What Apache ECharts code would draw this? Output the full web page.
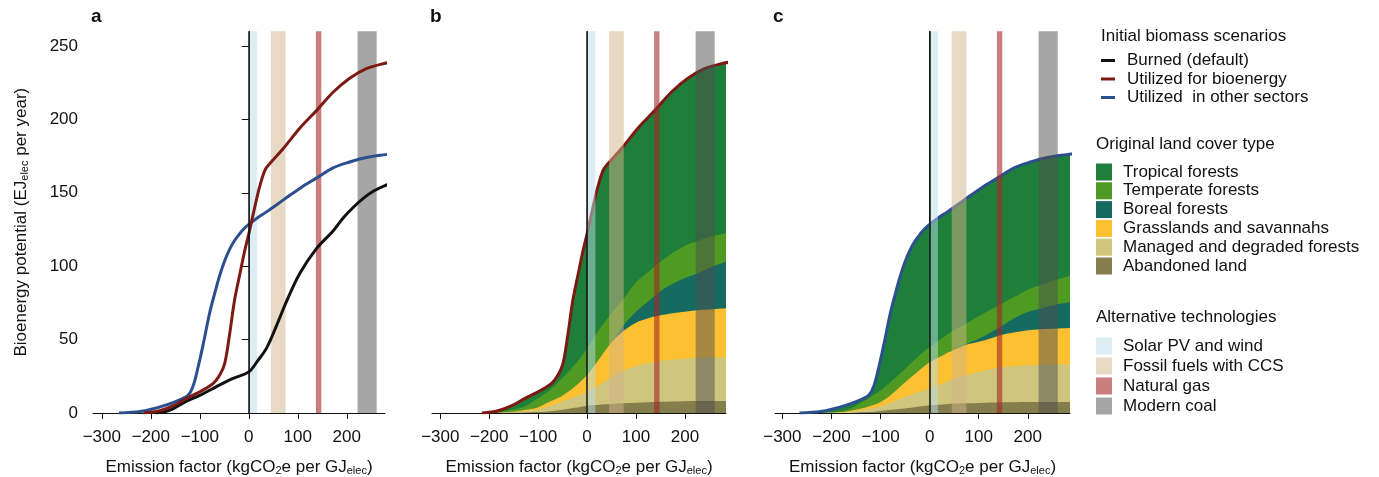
<!DOCTYPE html>
<html>
<head>
<meta charset="utf-8">
<script src="https://cdn.jsdelivr.net/npm/echarts@6/dist/echarts.min.js"></script>
<style>
  html, body { margin: 0; padding: 0; background: #fff; }
  #chart { width: 1379px; height: 477px; }
</style>
</head>
<body>
<div id="chart"></div>
<script>
// 曲线数据
const burnedX = [-190, -170, -154, -127, -100, -66, -32, 0, 19, 36, 56, 77, 104, 138, 172, 193, 213, 233, 254, 279, 290];
const burnedY = [0, 1, 3, 8, 12, 18, 23.6, 28, 36, 44, 59, 76, 95, 112, 124, 133, 140, 146, 151, 155, 156];

const bioX = [-215, -182, -154, -127, -100, -73, -59, -49, -39, -29, -18, -8, 0, 12, 22, 33, 43, 70, 104, 141, 172, 206, 240, 278, 292];
const bioY = [0, 1.5, 5, 10, 14.5, 20, 26, 34, 54, 77, 95, 111, 122, 140, 154, 165.5, 170, 180, 194, 207, 218.5, 228, 234.5, 238.2, 239];

const otherX = [-265, -222, -199, -168, -141, -124, -114, -103, -93, -80, -70, -60, -50, -40, -30, -20, -10, 0, 18, 36, 70, 104, 138, 172, 206, 240, 279, 292];
const otherY = [0, 1, 2.5, 5.5, 9, 12, 18, 32, 47, 68, 81, 93, 103, 111, 117, 121.5, 125.5, 128.5, 133, 137, 145, 153, 160, 167, 171, 174, 176, 176.5];

// 土地类型分层（累计上边界）
const layerX = [-230, -200, -175, -150, -125, -100, -75, -50, -25, 0, 25, 50, 75, 100, 125, 150, 175, 200, 225, 250, 292];

const temperateB = [0, 0.2, 0.8, 2.3, 5, 10, 16, 24, 33, 44, 57, 68, 78, 89, 96, 103, 109, 114, 117, 120, 123];
const borealB    = [0, 0, 0.3, 1, 2.2, 4, 8, 12, 18, 26, 37, 48, 60, 69, 76, 83, 88, 92, 95, 99, 104];
const grassB     = [0, 0, 0.3, 1, 2.2, 4, 8, 12, 18, 26, 37, 48, 56, 61.5, 64.5, 66.5, 68, 69, 70, 70.5, 71.5];
const managedB   = [0, 0, 0.2, 0.6, 1.3, 2.5, 5, 8, 11, 14.5, 19, 24.5, 29, 32, 34, 35.5, 36.5, 37, 37.5, 38, 38];
const abandonB   = [0, 0, 0, 0.1, 0.3, 0.6, 1.2, 2.2, 3.5, 5, 5.6, 6.1, 6.6, 7, 7.3, 7.6, 7.8, 8, 8.1, 8.2, 8.2];

const temperateC = [0, 0.5, 1.5, 5, 10, 15.4, 22.5, 30, 38, 45, 51, 56.5, 61, 66, 70.5, 75, 79.5, 84, 87, 90, 94];
const borealC    = [0, 0.2, 0.8, 2.3, 4.5, 7.5, 13.5, 21, 28, 34.5, 39, 43, 47, 50.5, 55, 60, 65, 68.8, 71, 73.3, 76];
const grassC     = [0, 0.2, 0.8, 2.3, 4.5, 7.5, 13.5, 21, 28, 34.5, 39, 43, 46.5, 48.5, 51, 53.5, 55, 56.3, 57, 57.4, 58];
const managedC   = [0, 0.1, 0.5, 1.4, 2.8, 4.5, 7.5, 11, 14, 16.6, 20, 23.4, 26, 28, 30, 31.3, 32, 32.5, 32.8, 33, 33.2];
const abandonC   = [0, 0, 0.05, 0.2, 0.6, 1.4, 2.2, 3, 4.2, 5.2, 5.8, 6.4, 6.6, 6.8, 7.1, 7.3, 7.4, 7.5, 7.5, 7.5, 7.5];

// 替代技术区间
const techNames = ['Solar PV and wind', 'Fossil fuels with CCS', 'Natural gas', 'Modern coal'];
const techFrom = [0, 45, 137, 222];
const techTo = [17, 75, 148, 261];
const techColors = ['rgba(185,221,233,0.5)', 'rgba(209,179,137,0.5)', 'rgba(165,38,38,0.6)', 'rgba(78,78,78,0.5)'];

const lineNames = ['Burned (default)', 'Utilized for bioenergy', 'Utilized  in other sectors'];
const lineColors = ['#111111', '#7d1a14', '#2b4f8f'];

const landNames = ['Tropical forests', 'Temperate forests', 'Boreal forests', 'Grasslands and savannahs', 'Managed and degraded forests', 'Abandoned land'];
const landColors = ['#1e7f3b', '#4f9a22', '#166b60', '#fcc030', '#cfc57c', '#847d4c'];

const xTicks = [-300, -200, -100, 0, 100, 200];
const yTicks = [0, 50, 100, 150, 200, 250];

const FONT = 'Liberation Sans';
const pairs = (xs, ys) => xs.map((x, i) => [x, ys[i]]);

const chart = echarts.init(document.getElementById('chart'));

const gridLeft = [93, 432, 775];
const gridWidth = [292, 294, 295];
const xMin = [-318, -317, -315];
const xMax = [278, 284, 286];

const xName = '{n|Emission factor (kgCO}{s|2}{n|e per GJ}{s|elec}{n|)}';
const nameRich = {
  n: { fontSize: 17, fontFamily: FONT, color: '#111', verticalAlign: 'top', lineHeight: 17 },
  s: { fontSize: 11, fontFamily: FONT, color: '#111', verticalAlign: 'bottom', lineHeight: 11, padding: [8, 0, 0, 0] }
};

const grids = [], xAxes = [], yAxes = [];
for (let i = 0; i < 3; i++) {
  grids.push({ left: gridLeft[i], top: 31.3, width: gridWidth[i], height: 381.7, outerBoundsMode: 'none', containLabel: false });
  xAxes.push({
    type: 'value', gridIndex: i, min: xMin[i], max: xMax[i],
    name: xName, nameLocation: 'middle', nameGap: 46,
    nameTextStyle: { rich: nameRich },
    axisLine: { show: true, lineStyle: { color: '#111', width: 1 } },
    axisTick: { show: true, length: 6, customValues: xTicks, lineStyle: { color: '#111' } },
    axisLabel: {
      customValues: xTicks, margin: 16, fontSize: 17, fontFamily: FONT, color: '#111',
      formatter: v => String(v).replace('-', '\u2212')
    },
    splitLine: { show: false }
  });
  yAxes.push({
    type: 'value', gridIndex: i, min: 0, max: 260,
    name: i === 0 ? '{n|Bioenergy potential (EJ}{s|elec}{n| per year)}' : '',
    nameLocation: 'middle', nameGap: 63, nameRotate: 90,
    nameTextStyle: { rich: nameRich },
    axisLine: { show: true, lineStyle: { color: '#111', width: 1 } },
    axisTick: { show: i === 0, length: 7, customValues: yTicks, lineStyle: { color: '#111' } },
    axisLabel: { show: i === 0, customValues: yTicks, margin: 15, fontSize: 17, fontFamily: FONT, color: '#111' },
    splitLine: { show: false }
  });
}

const series = [];

function addBands(idx, z) {
  techNames.forEach((name, k) => {
    series.push({
      name: name, type: 'line', xAxisIndex: idx, yAxisIndex: idx, data: [],
      color: techColors[k], z: z, silent: true,
      markArea: {
        silent: true, z: z,
        itemStyle: { color: techColors[k] },
        data: [[{ xAxis: techFrom[k] }, { xAxis: techTo[k] }]]
      }
    });
  });
}

function addZeroLine(idx) {
  series.push({
    name: 'zero', type: 'line', xAxisIndex: idx, yAxisIndex: idx, data: [], z: 6, silent: true,
    markLine: {
      silent: true, z: 6, symbol: 'none', label: { show: false },
      lineStyle: { color: '#111', width: 1.5, type: 'solid' },
      data: [{ xAxis: 0 }]
    }
  });
}

function addCurve(idx, name, color, xs, ys, z) {
  series.push({
    name: name, type: 'line', xAxisIndex: idx, yAxisIndex: idx,
    data: pairs(xs, ys), color: color, showSymbol: false, smooth: 0.35,
    lineStyle: { width: 3, color: color }, z: z
  });
}

function addLayer(idx, k, xs, ys) {
  series.push({
    name: landNames[k], type: 'line', xAxisIndex: idx, yAxisIndex: idx,
    data: pairs(xs, ys), color: landColors[k], showSymbol: false, smooth: 0.35,
    lineStyle: { width: 0 }, areaStyle: { color: landColors[k], opacity: 1 }, z: 2
  });
}

// 面板 a
addBands(0, 1);
addCurve(0, lineNames[0], lineColors[0], burnedX, burnedY, 3);
addCurve(0, lineNames[2], lineColors[2], otherX, otherY, 3);
addCurve(0, lineNames[1], lineColors[1], bioX, bioY, 3);
addZeroLine(0);

// 面板 b
addLayer(1, 0, bioX, bioY);
addLayer(1, 1, layerX, temperateB);
addLayer(1, 2, layerX, borealB);
addLayer(1, 3, layerX, grassB);
addLayer(1, 4, layerX, managedB);
addLayer(1, 5, layerX, abandonB);
addCurve(1, lineNames[1], lineColors[1], bioX, bioY, 3);
addBands(1, 5);
addZeroLine(1);

// 面板 c
addLayer(2, 0, otherX, otherY);
addLayer(2, 1, layerX, temperateC);
addLayer(2, 2, layerX, borealC);
addLayer(2, 3, layerX, grassC);
addLayer(2, 4, layerX, managedC);
addLayer(2, 5, layerX, abandonC);
addCurve(2, lineNames[2], lineColors[2], otherX, otherY, 3);
addBands(2, 5);
addZeroLine(2);

const legendText = { fontSize: 17, fontFamily: FONT, color: '#111', lineHeight: 17 };
const titleStyle = { fontSize: 17, fontFamily: FONT, color: '#111', fontWeight: 'normal' };
const letterStyle = { fontSize: 19, fontFamily: FONT, color: '#111', fontWeight: 'bold' };

const option = {
  animation: false,
  backgroundColor: '#fff',
  title: [
    { text: 'a', left: 91, top: 7, padding: 0, textStyle: letterStyle },
    { text: 'b', left: 430, top: 7, padding: 0, textStyle: letterStyle },
    { text: 'c', left: 773, top: 7, padding: 0, textStyle: letterStyle },
    { text: 'Initial biomass scenarios', left: 1101, top: 28, padding: 0, textStyle: titleStyle },
    { text: 'Original land cover type', left: 1096, top: 136, padding: 0, textStyle: titleStyle },
    { text: 'Alternative technologies', left: 1096, top: 309, padding: 0, textStyle: titleStyle }
  ],
  legend: [
    {
      data: lineNames, orient: 'vertical', left: 1101, top: 52, padding: 0,
      icon: 'rect', itemWidth: 14, itemHeight: 3, itemGap: 1.5, selectedMode: false,
      textStyle: Object.assign({ padding: [0, 0, 0, 7] }, legendText)
    },
    {
      data: landNames, orient: 'vertical', left: 1096, top: 163.5, padding: 0,
      icon: 'rect', itemWidth: 16, itemHeight: 17, itemGap: 1.8, selectedMode: false,
      textStyle: Object.assign({ padding: [0, 0, 0, 6] }, legendText)
    },
    {
      data: techNames, orient: 'vertical', left: 1096, top: 337.5, padding: 0,
      icon: 'rect', itemWidth: 16, itemHeight: 17, itemGap: 3, selectedMode: false,
      textStyle: Object.assign({ padding: [0, 0, 0, 6] }, legendText)
    }
  ],
  grid: grids,
  xAxis: xAxes,
  yAxis: yAxes,
  series: series
};

chart.setOption(option);
</script>
</body>
</html>
